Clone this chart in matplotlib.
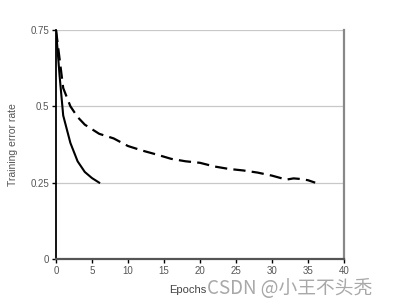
import matplotlib.pyplot as plt

# solid curve (fast learner)
solid_x = [0, 0.5, 1, 2, 3, 4, 5, 6]
solid_y = [0.75, 0.60, 0.47, 0.38, 0.32, 0.285, 0.265, 0.25]

# dashed curve (slow learner)
dash_x = [0, 1, 2, 3, 4, 5, 6, 8, 10, 12, 14, 16, 18, 20, 22, 24, 26, 28, 30, 32, 33, 34, 35, 36]
dash_y = [0.75, 0.56, 0.50, 0.465, 0.44, 0.425, 0.41, 0.395, 0.37, 0.355, 0.342, 0.328,
          0.32, 0.315, 0.303, 0.295, 0.29, 0.283, 0.273, 0.26, 0.264, 0.262, 0.258, 0.25]

xticks = [0, 5, 10, 15, 20, 25, 30, 35, 40]
yticks = [0, 0.25, 0.5, 0.75]
ylabels = ['0', '0.25', '0.5', '0.75']

plt.rcParams['font.family'] = ['Liberation Sans', 'DejaVu Sans']

fig = plt.figure(figsize=(3.93, 3.07), dpi=100)
ax = fig.add_axes([56/393, 48/307, 288/393, 229/307])

for y in yticks[1:]:
    ax.axhline(y, color='#c8c8c8', lw=0.9, zorder=0)

ax.plot(solid_x, solid_y, color='black', lw=1.5, zorder=3)
ax.plot(dash_x, dash_y, color='black', lw=1.6, dashes=(5.5, 2.8), zorder=3)

ax.set_xlim(0, 40)
ax.set_ylim(0, 0.75)
ax.set_xticks(xticks)
ax.set_yticks(yticks)
ax.set_yticklabels(ylabels)
ax.tick_params(labelsize=7, labelcolor='#555555', length=3, width=1, direction='out', pad=2)

ax.spines['top'].set_visible(False)
ax.spines['right'].set_color('#888888')
ax.spines['right'].set_linewidth(1.6)
ax.spines['left'].set_color('black')
ax.spines['left'].set_linewidth(1.3)
ax.spines['bottom'].set_color('#555555')
ax.spines['bottom'].set_linewidth(1.6)

ax.set_ylabel('Training error rate', fontsize=7.5, color='#555555', labelpad=9)
fig.text(188/393, 1 - 290/307, 'Epochs', fontsize=8, color='#444444', ha='center', va='center')

# watermark
fig.text(207/393, 1 - 289/307, 'CSDN @小王不头秃', fontsize=13.5, color='#a8a8a8',
         ha='left', va='center', family=['Noto Sans CJK SC', 'DejaVu Sans'])

fig.savefig('out.png', dpi=100)
